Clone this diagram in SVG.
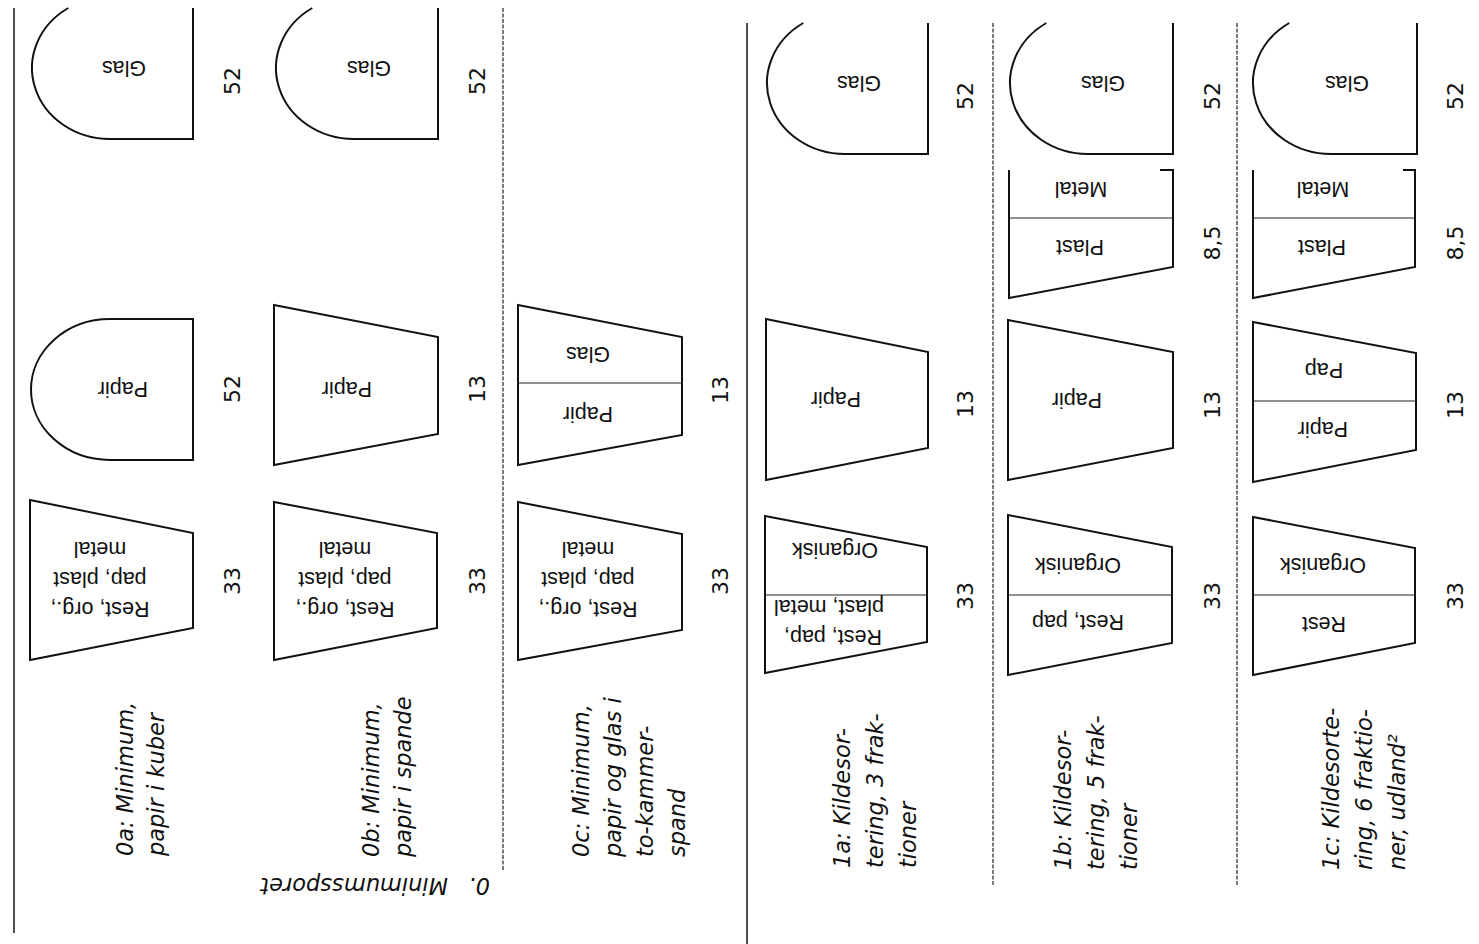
<svg xmlns="http://www.w3.org/2000/svg" width="1479" height="944" viewBox="0 0 1479 944">
<style>
.s{fill:none;stroke:#111;stroke-width:2;stroke-linejoin:miter}
.d{stroke:#222;stroke-width:1.2}
.solid{stroke:#222;stroke-width:1.6}
.dash{stroke:#222;stroke-width:1.2;stroke-dasharray:4 1.5}
.t{font-family:"Liberation Sans",Arial,sans-serif;font-size:21.5px;text-anchor:middle;fill:#111}
.n{font-family:"DejaVu Sans",Verdana,sans-serif;font-size:22px;text-anchor:middle;fill:#111}
.r{font-family:"DejaVu Sans",Verdana,sans-serif;font-size:22.5px;font-style:italic;fill:#111}
</style>
<rect width="1479" height="944" fill="#fff"/>
<g id="connectors">
<line class="solid" x1="14" y1="8" x2="14" y2="933"/>
<line class="dash" x1="503" y1="8" x2="503" y2="870"/>
<line class="solid" x1="747" y1="23" x2="747" y2="944"/>
<line class="dash" x1="993" y1="23" x2="993" y2="885"/>
<line class="dash" x1="1237" y1="23" x2="1237" y2="885"/>
</g>
<g id="section0">
<text class="r" transform="translate(490,878) rotate(180)">0.</text>
<text class="r" transform="translate(448,878) rotate(180)">Minimumssporet</text>
</g>
<g id="row0a">
<path class="s" d="M68.3,8 A78,71 0 0 0 110,139 L193,139 L193,8"/>
<text class="t" transform="translate(124,61) rotate(180)">Glas</text>
<text class="n" transform="translate(240,81) rotate(-90)">52</text>
<path class="s" d="M193,319 L110,319 A79,70.5 0 0 0 110,460 L193,460 Z"/>
<text class="t" transform="translate(123,382) rotate(180)">Papir</text>
<text class="n" transform="translate(240,389) rotate(-90)">52</text>
<path class="s" d="M30,500 L193,533 L193,628 L30,660 Z"/>
<text class="t" transform="translate(100,542) rotate(180)">metal</text>
<text class="t" transform="translate(100,572) rotate(180)">pap, plast</text>
<text class="t" transform="translate(100,602) rotate(180)">Rest, org.,</text>
<text class="n" transform="translate(240,581) rotate(-90)">33</text>
<text class="r" transform="translate(133,856) rotate(-90)">0a: Minimum,</text>
<text class="r" transform="translate(164,856) rotate(-90)">papir i kuber</text>
</g>
<g id="row0b">
<path class="s" d="M312.3,8 A78,71 0 0 0 354,139 L438,139 L438,8"/>
<text class="t" transform="translate(369,61) rotate(180)">Glas</text>
<text class="n" transform="translate(485,81) rotate(-90)">52</text>
<path class="s" d="M274,305 L438,337 L438,434 L274,465 Z"/>
<text class="t" transform="translate(347,382) rotate(180)">Papir</text>
<text class="n" transform="translate(485,389) rotate(-90)">13</text>
<path class="s" d="M274,502 L437,533 L437,628 L274,660 Z"/>
<text class="t" transform="translate(345,542) rotate(180)">metal</text>
<text class="t" transform="translate(345,572) rotate(180)">pap, plast</text>
<text class="t" transform="translate(345,602) rotate(180)">Rest, org.,</text>
<text class="n" transform="translate(485,581) rotate(-90)">33</text>
<text class="r" transform="translate(379,857) rotate(-90)">0b: Minimum,</text>
<text class="r" transform="translate(411,857) rotate(-90)">papir i spande</text>
</g>
<g id="row0c">
<path class="s" d="M518,305 L682,337 L682,435 L518,465 Z"/>
<line class="d" x1="518" y1="383" x2="682" y2="383"/>
<text class="t" transform="translate(588,347) rotate(180)">Glas</text>
<text class="t" transform="translate(588,407) rotate(180)">Papir</text>
<text class="n" transform="translate(728,390) rotate(-90)">13</text>
<path class="s" d="M518,502 L682,534 L682,630 L518,660 Z"/>
<text class="t" transform="translate(588,542) rotate(180)">metal</text>
<text class="t" transform="translate(588,572) rotate(180)">pap, plast</text>
<text class="t" transform="translate(588,602) rotate(180)">Rest, org.,</text>
<text class="n" transform="translate(728,581) rotate(-90)">33</text>
<text class="r" transform="translate(589,857) rotate(-90)">0c: Minimum,</text>
<text class="r" transform="translate(621,857) rotate(-90)">papir og glas i</text>
<text class="r" transform="translate(653,857) rotate(-90)">to-kammer-</text>
<text class="r" transform="translate(685,857) rotate(-90)">spand</text>
</g>
<g id="row1a">
<path class="s" d="M803.3,23 A78,71 0 0 0 845,154 L928,154 L928,23"/>
<text class="t" transform="translate(859,76) rotate(180)">Glas</text>
<text class="n" transform="translate(973,96) rotate(-90)">52</text>
<path class="s" d="M766,319 L928,352 L928,448 L766,480 Z"/>
<text class="t" transform="translate(836,392) rotate(180)">Papir</text>
<text class="n" transform="translate(973,404) rotate(-90)">13</text>
<path class="s" d="M765,516 L927,547 L927,642 L765,673 Z"/>
<line class="d" x1="765" y1="595" x2="927" y2="595"/>
<text class="t" transform="translate(835,543) rotate(180)">Organisk</text>
<text class="t" transform="translate(829,600) rotate(180)">plast, metal</text>
<text class="t" transform="translate(833,630) rotate(180)">Rest, pap,</text>
<text class="n" transform="translate(973,596) rotate(-90)">33</text>
<text class="r" transform="translate(850,868) rotate(-90)">1a: Kildesor-</text>
<text class="r" transform="translate(883,868) rotate(-90)">tering, 3 frak-</text>
<text class="r" transform="translate(916,868) rotate(-90)">tioner</text>
</g>
<g id="row1b">
<path class="s" d="M1046.3,23 A78,71 0 0 0 1088,154 L1173,154 L1173,23"/>
<text class="t" transform="translate(1103,76) rotate(180)">Glas</text>
<text class="n" transform="translate(1220,96) rotate(-90)">52</text>
<path class="s" d="M1160,170 L1173,170 L1173,267 L1009,298 L1009,170"/>
<line class="d" x1="1009" y1="218" x2="1173" y2="218"/>
<text class="t" transform="translate(1081,182) rotate(180)">Metal</text>
<text class="t" transform="translate(1080,240) rotate(180)">Plast</text>
<text class="n" transform="translate(1220,243) rotate(-90)">8,5</text>
<path class="s" d="M1008,320 L1173,352 L1173,448 L1008,480 Z"/>
<text class="t" transform="translate(1077,393) rotate(180)">Papir</text>
<text class="n" transform="translate(1220,405) rotate(-90)">13</text>
<path class="s" d="M1008,515 L1172,547 L1172,643 L1008,675 Z"/>
<line class="d" x1="1008" y1="595" x2="1172" y2="595"/>
<text class="t" transform="translate(1078,558) rotate(180)">Organisk</text>
<text class="t" transform="translate(1078,615) rotate(180)">Rest, pap</text>
<text class="n" transform="translate(1220,596) rotate(-90)">33</text>
<text class="r" transform="translate(1071,870) rotate(-90)">1b: Kildesor-</text>
<text class="r" transform="translate(1104,870) rotate(-90)">tering, 5 frak-</text>
<text class="r" transform="translate(1137,870) rotate(-90)">tioner</text>
</g>
<g id="row1c">
<path class="s" d="M1289.3,23 A78,71 0 0 0 1331,154 L1417,154 L1417,23"/>
<text class="t" transform="translate(1347,76) rotate(180)">Glas</text>
<text class="n" transform="translate(1463,96) rotate(-90)">52</text>
<path class="s" d="M1403,170 L1415,170 L1415,267 L1253,298 L1253,170"/>
<line class="d" x1="1253" y1="218" x2="1415" y2="218"/>
<text class="t" transform="translate(1323,182) rotate(180)">Metal</text>
<text class="t" transform="translate(1322,240) rotate(180)">Plast</text>
<text class="n" transform="translate(1463,243) rotate(-90)">8,5</text>
<path class="s" d="M1253,322 L1416,353 L1416,450 L1253,482 Z"/>
<line class="d" x1="1253" y1="401" x2="1416" y2="401"/>
<text class="t" transform="translate(1324,363) rotate(180)">Pap</text>
<text class="t" transform="translate(1323,422) rotate(180)">Papir</text>
<text class="n" transform="translate(1463,405) rotate(-90)">13</text>
<path class="s" d="M1253,517 L1415,548 L1415,643 L1253,675 Z"/>
<line class="d" x1="1253" y1="595" x2="1415" y2="595"/>
<text class="t" transform="translate(1323,558) rotate(180)">Organisk</text>
<text class="t" transform="translate(1324,617) rotate(180)">Rest</text>
<text class="n" transform="translate(1463,596) rotate(-90)">33</text>
<text class="r" transform="translate(1339,870) rotate(-90)">1c: Kildesorte-</text>
<text class="r" transform="translate(1372,870) rotate(-90)">ring, 6 fraktio-</text>
<text class="r" transform="translate(1405,870) rotate(-90)">ner, udland²</text>
</g>
</svg>
